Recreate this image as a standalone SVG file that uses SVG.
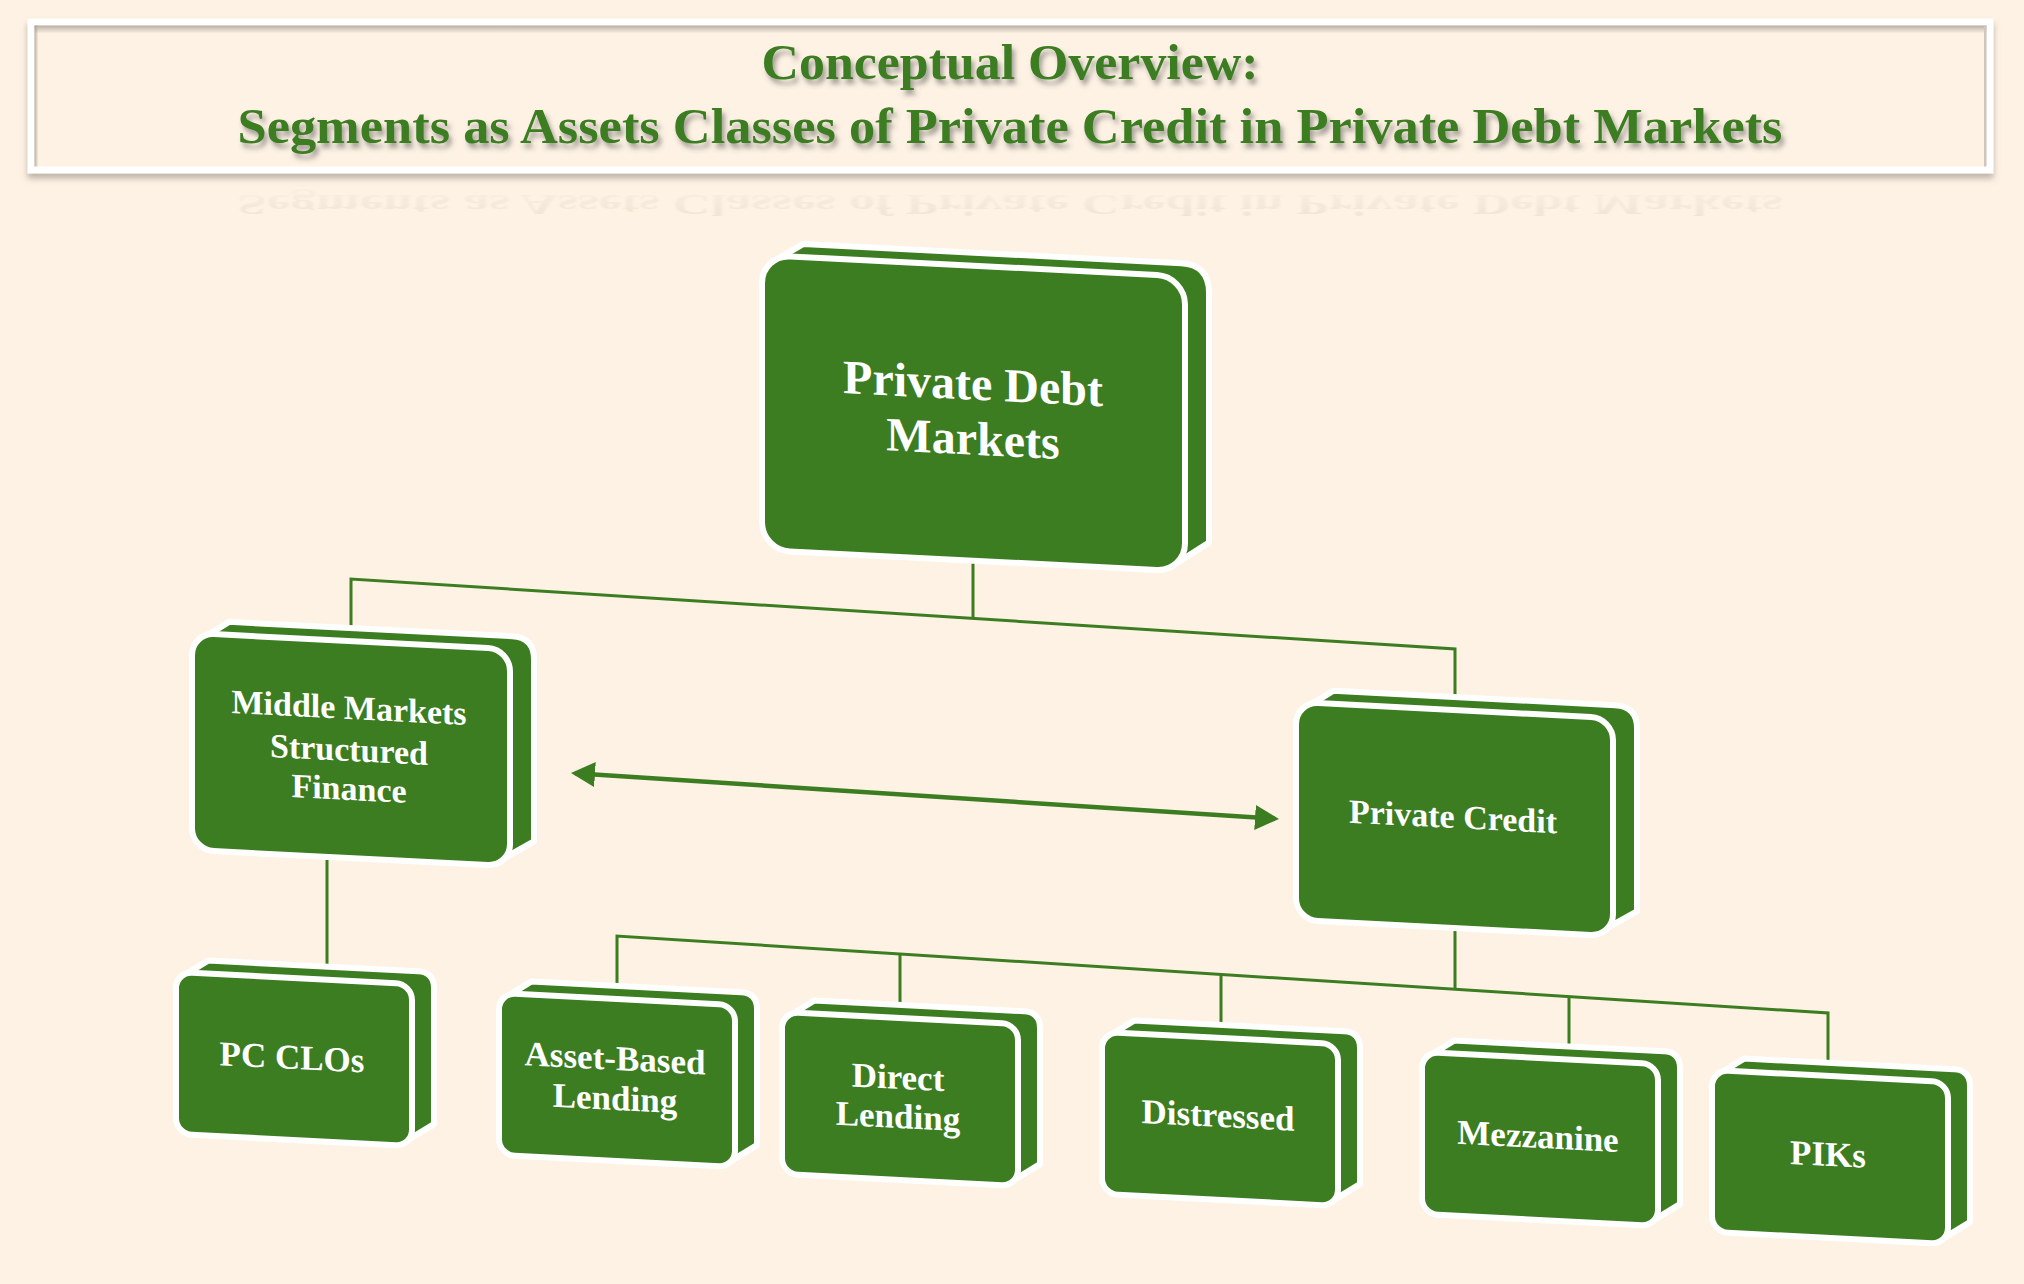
<svg xmlns="http://www.w3.org/2000/svg" width="2024" height="1284" viewBox="0 0 2024 1284">
  <defs>
    <filter id="frameShadow" x="-5%" y="-20%" width="110%" height="150%">
      <feDropShadow dx="0" dy="5" stdDeviation="3" flood-color="#8a8078" flood-opacity="0.55"/>
    </filter>
    <filter id="textShadow" x="-5%" y="-30%" width="110%" height="170%">
      <feDropShadow dx="3" dy="5" stdDeviation="2.5" flood-color="#4a4a4a" flood-opacity="0.5"/>
    </filter>
    <filter id="reflBlur" x="-5%" y="-30%" width="110%" height="160%">
      <feGaussianBlur stdDeviation="1.2"/>
    </filter>
    <linearGradient id="innerTop" x1="0" y1="0" x2="0" y2="1">
      <stop offset="0" stop-color="#a79d93" stop-opacity="0.8"/>
      <stop offset="1" stop-color="#a79d93" stop-opacity="0"/>
    </linearGradient>
    <linearGradient id="innerLeft" x1="0" y1="0" x2="1" y2="0">
      <stop offset="0" stop-color="#a79d93" stop-opacity="0.8"/>
      <stop offset="1" stop-color="#a79d93" stop-opacity="0"/>
    </linearGradient>
    <linearGradient id="reflFade" x1="0" y1="0" x2="0" y2="1">
      <stop offset="0" stop-color="#8a8a6a" stop-opacity="0.14"/>
      <stop offset="1" stop-color="#8a8a6a" stop-opacity="0.03"/>
    </linearGradient>
    <marker id="arrow" viewBox="0 0 24 25" markerWidth="24" markerHeight="25" refX="20" refY="12.5" orient="auto-start-reverse" markerUnits="userSpaceOnUse">
      <path d="M0,0 L24,12.5 L0,25 Z" fill="#3C7D22"/>
    </marker>
  </defs>
  <style>
    .back { fill: #3C7D22; stroke: #ffffff; stroke-width: 6; stroke-linejoin: round; }
    .front { fill: #3C7D22; stroke: #ffffff; stroke-width: 6; }
    .label { font-family: "Liberation Serif", "DejaVu Serif", serif; font-weight: bold; fill: #ffffff; text-anchor: middle; }
    .l1 { font-size: 48px; }
    .l2 { font-size: 34px; }
    .l3 { font-size: 35px; }
    .title { font-family: "Liberation Serif", "DejaVu Serif", serif; font-weight: bold; fill: #3C7D22; text-anchor: middle; font-size: 50px; }
    .conn { fill: none; stroke: #3C7D22; stroke-width: 3; }
    .arrowline { fill: none; stroke: #3C7D22; stroke-width: 4.5; }
  </style>

  <rect x="0" y="0" width="2024" height="1284" fill="#FEF2E4"/>

  <!-- Title banner -->
  <g id="title">
    <rect x="31" y="22" width="1959" height="148" fill="#FEF2E4" stroke="#ffffff" stroke-width="7" filter="url(#frameShadow)"/>
    <rect x="34.5" y="25.5" width="1952" height="8" fill="url(#innerTop)"/>
    <rect x="34.5" y="25.5" width="4" height="141" fill="url(#innerLeft)"/>
    <rect x="1984" y="25.5" width="2.5" height="141" fill="#cfc7bf"/>
    <text class="title" x="1010" y="79" textLength="497" lengthAdjust="spacingAndGlyphs" filter="url(#textShadow)">Conceptual Overview:</text>
    <text class="title" x="1010" y="143" textLength="1545" lengthAdjust="spacingAndGlyphs" filter="url(#textShadow)">Segments as Assets Classes of  Private Credit in Private Debt Markets</text>
    <text x="1010" y="143" transform="translate(0,281) scale(1,-0.6)" textLength="1545" lengthAdjust="spacingAndGlyphs" style="font-family: 'Liberation Serif', serif; font-weight: bold; font-size: 50px; text-anchor: middle;" fill="url(#reflFade)" filter="url(#reflBlur)" aria-hidden="true">Segments as Assets Classes of  Private Credit in Private Debt Markets</text>
  </g>

  <!-- Connectors -->
  <g id="connectors">
    <line class="conn" x1="973" y1="562" x2="973" y2="619"/>
    <polyline class="conn" points="351,632 351,579 1455,649 1455,702"/>
    <line class="conn" x1="327" y1="860" x2="327" y2="972"/>
    <line class="conn" x1="1455" y1="926" x2="1455" y2="989"/>
    <polyline class="conn" points="617,992 617,936 1828,1013 1828,1068"/>
    <line class="conn" x1="900" y1="954" x2="900" y2="1010"/>
    <line class="conn" x1="1221" y1="974.5" x2="1221" y2="1030"/>
    <line class="conn" x1="1569" y1="996.5" x2="1569" y2="1050"/>
    <line class="arrowline" x1="575" y1="773.3" x2="1275" y2="818.7" marker-start="url(#arrow)" marker-end="url(#arrow)"/>
  </g>

  <!-- Nodes -->
  <g id="node-private-debt-markets" transform="translate(762,255) skewY(2.9)">
    <path class="back" d="M8,8 L41,-13 H419 Q447,-13 447,15 V265 L415,287 Z"/>
    <rect class="front" x="0" y="0" width="423" height="295" rx="28" ry="28"/>
    <text class="label l1" x="211" y="134">Private Debt</text>
    <text class="label l1" x="211" y="189">Markets</text>
  </g>

  <g id="node-middle-markets" transform="translate(192,633) skewY(2.9)">
    <path class="back" d="M7,7 L37,-13 H320 Q342,-13 342,9 V191 L311,210 Z"/>
    <rect class="front" x="0" y="0" width="318" height="217" rx="22" ry="22"/>
    <text class="label l2" x="157" y="78">Middle Markets</text>
    <text class="label l2" x="157" y="120">Structured</text>
    <text class="label l2" x="157" y="159">Finance</text>
  </g>

  <g id="node-private-credit" transform="translate(1296,702) skewY(2.9)">
    <path class="back" d="M7,7 L37,-13 H319 Q341,-13 341,9 V192 L310,211 Z"/>
    <rect class="front" x="0" y="0" width="317" height="218" rx="22" ry="22"/>
    <text class="label l2" x="157" y="118">Private Credit</text>
  </g>

  <g id="node-pc-clos" transform="translate(176,972) skewY(2.9)">
    <path class="back" d="M5,5 L32,-13 H242 Q258,-13 258,3 V139 L231,157 Z"/>
    <rect class="front" x="0" y="0" width="236" height="162" rx="16" ry="16"/>
    <text class="label l3" x="116" y="91">PC CLOs</text>
  </g>

  <g id="node-asset-based-lending" transform="translate(499,993) skewY(2.9)">
    <path class="back" d="M5,5 L32,-13 H242 Q258,-13 258,3 V139 L231,157 Z"/>
    <rect class="front" x="0" y="0" width="236" height="162" rx="16" ry="16"/>
    <text class="label l3" x="116" y="71">Asset-Based</text>
    <text class="label l3" x="116" y="111">Lending</text>
  </g>

  <g id="node-direct-lending" transform="translate(782,1012) skewY(2.9)">
    <path class="back" d="M5,5 L32,-13 H242 Q258,-13 258,3 V139 L231,157 Z"/>
    <rect class="front" x="0" y="0" width="236" height="162" rx="16" ry="16"/>
    <text class="label l3" x="116" y="71">Direct</text>
    <text class="label l3" x="116" y="110">Lending</text>
  </g>

  <g id="node-distressed" transform="translate(1102,1032) skewY(2.9)">
    <path class="back" d="M5,5 L32,-13 H242 Q258,-13 258,3 V139 L231,157 Z"/>
    <rect class="front" x="0" y="0" width="236" height="162" rx="16" ry="16"/>
    <text class="label l3" x="116" y="89">Distressed</text>
  </g>

  <g id="node-mezzanine" transform="translate(1422,1052) skewY(2.9)">
    <path class="back" d="M5,5 L32,-13 H242 Q258,-13 258,3 V139 L231,157 Z"/>
    <rect class="front" x="0" y="0" width="236" height="162" rx="16" ry="16"/>
    <text class="label l3" x="116" y="90">Mezzanine</text>
  </g>

  <g id="node-piks" transform="translate(1712,1070) skewY(2.9)">
    <path class="back" d="M5,5 L32,-13 H242 Q258,-13 258,3 V139 L231,157 Z"/>
    <rect class="front" x="0" y="0" width="236" height="162" rx="16" ry="16"/>
    <text class="label l3" x="116" y="90">PIKs</text>
  </g>
</svg>
